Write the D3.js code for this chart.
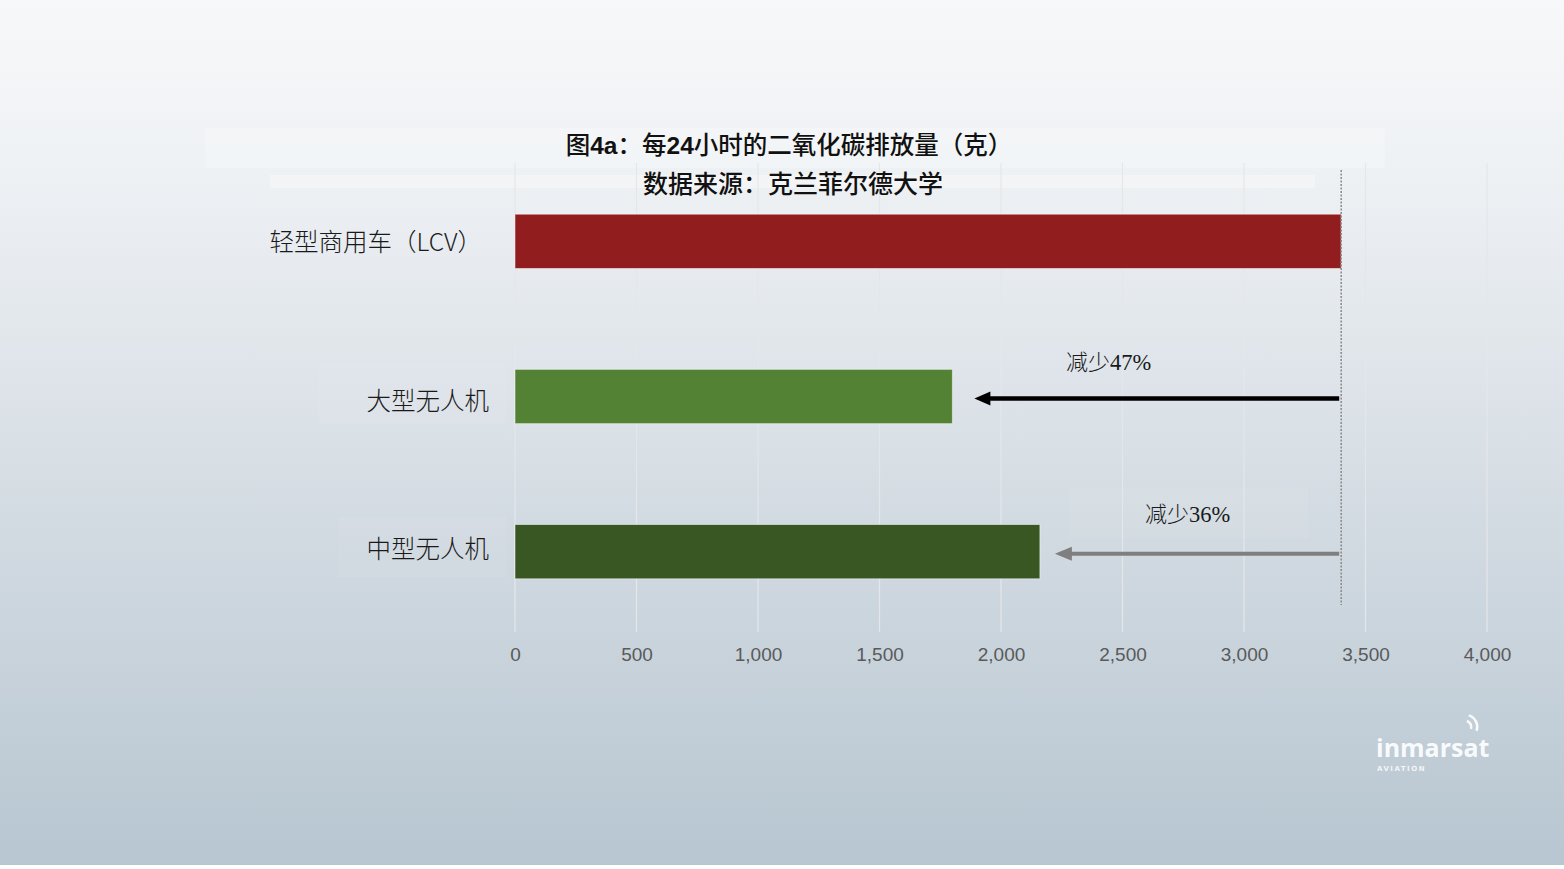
<!DOCTYPE html>
<html><head><meta charset="utf-8">
<script src="https://cdn.jsdelivr.net/npm/d3@7"></script>
<style>html,body{margin:0;padding:0;background:#fff;}svg{display:block;}</style>
</head><body>
<svg id="chart" width="1564" height="869"></svg>
<script>
const categories = ["轻型商用车（LCV）", "大型无人机", "中型无人机"];
const values = [3400, 1800, 2160];
const barColors = ["#921d1e", "#548235", "#385723"];
const tickValues = [0, 500, 1000, 1500, 2000, 2500, 3000, 3500, 4000];
const reductionLabels = [["减少", "47%"], ["减少", "36%"]];
const titleParts = [["图", "n"], ["4a", "b"], ["：每", "n"], ["24", "b"], ["小时的二氧化碳排放量（克）", "n"]];
const subtitle = "数据来源：克兰菲尔德大学";

const svg = d3.select("#chart");
const W = 1564, H = 869;
const defs = svg.append("defs");
const grad = defs.append("linearGradient").attr("id","bg").attr("x1",0).attr("y1",0).attr("x2",0).attr("y2",1);
grad.append("stop").attr("offset","0%").attr("stop-color","#f7f8fa");
grad.append("stop").attr("offset","20%").attr("stop-color","#eef1f4");
grad.append("stop").attr("offset","60%").attr("stop-color","#d3dbe2");
grad.append("stop").attr("offset","100%").attr("stop-color","#b7c6d1");
svg.append("rect").attr("width",W).attr("height",865).attr("fill","url(#bg)");

// faint boxes behind text
svg.append("rect").attr("x",205).attr("y",128).attr("width",1180).attr("height",40).attr("fill","#fff").attr("opacity",0.22);
svg.append("rect").attr("x",270).attr("y",175).attr("width",1045).attr("height",13).attr("fill","#fff").attr("opacity",0.3);
svg.append("rect").attr("x",318).attr("y",364).attr("width",188).attr("height",60).attr("fill","#fff").attr("opacity",0.06);
svg.append("rect").attr("x",338).attr("y",517).attr("width",168).attr("height",60).attr("fill","#fff").attr("opacity",0.05);
svg.append("rect").attr("x",1070).attr("y",488).attr("width",238).attr("height",50).attr("fill","#fff").attr("opacity",0.06);

const x = d3.scaleLinear().domain([0, 4000]).range([515, 1487]);
const y = d3.scaleBand().domain(categories).range([163, 630]).paddingInner(0.65).paddingOuter(0.33);

// gridlines
svg.append("g").selectAll("line").data(tickValues).join("line")
  .attr("x1", d => x(d)).attr("x2", d => x(d))
  .attr("y1", 163).attr("y2", 632)
  .attr("stroke", "#e4e7ea").attr("stroke-width", 1.2);

// axis labels
const axis = d3.axisBottom(x).tickValues(tickValues).tickFormat(d3.format(",")).tickSize(0).tickPadding(0);
const ag = svg.append("g").attr("transform","translate(0,661)").call(axis);
ag.select(".domain").remove();
ag.selectAll("text").attr("font-family","'Liberation Sans Narrow','Liberation Sans',Arial,sans-serif")
  .attr("font-size",19).attr("fill","#5a5a5a").attr("dy","0");

// bars
svg.append("g").selectAll("rect").data(categories).join("rect")
  .attr("x", x(0)).attr("y", d => y(d))
  .attr("width", (d,i) => x(values[i]) - x(0))
  .attr("height", y.bandwidth())
  .attr("fill", (d,i) => barColors[i])
  .attr("stroke","#ffffff").attr("stroke-opacity",0.5).attr("stroke-width",1);

// category labels
const labelOffsets = [3, 7, 0];
svg.append("g").selectAll("text").data(categories).join("text")
  .attr("x", (d,i) => i === 0 ? 482 : 489)
  .attr("y", (d,i) => y(d) + y.bandwidth()/2 + labelOffsets[i])
  .attr("text-anchor","end").attr("dominant-baseline","middle")
  .attr("font-family","'Noto Sans CJK SC',sans-serif").attr("font-size",24.5).attr("font-weight",300)
  .attr("fill","#1a1a1a").text(d => d);

// dotted reference line
svg.append("line").attr("x1", x(values[0])).attr("x2", x(values[0]))
  .attr("y1",170).attr("y2",605)
  .attr("stroke","#8a8a8a").attr("stroke-width",1.5).attr("stroke-dasharray","2,1.5");

// arrows
function arrow(cat, val, color, sw, headW, headL, gap, labelX, labelY, label) {
  const cy = y(cat) + y.bandwidth()/2 + 2;
  const x0 = x(values[0]) - 2;
  const tip = x(val) + gap;
  svg.append("line").attr("x1", x0).attr("x2", tip + headL - 2).attr("y1", cy).attr("y2", cy)
    .attr("stroke", color).attr("stroke-width", sw);
  svg.append("path").attr("d", `M${tip},${cy} L${tip+headL},${cy-headW} L${tip+headL},${cy+headW} Z`)
    .attr("fill", color);
  const t = svg.append("text").attr("x", labelX).attr("y", labelY).attr("font-size",22).attr("fill","#1a1a1a");
  t.append("tspan").attr("font-family","'Noto Sans CJK SC',serif").attr("font-weight",300).text(label[0]);
  t.append("tspan").attr("font-family","'Liberation Serif','DejaVu Serif',serif").attr("font-size",22.5).text(label[1]);
}
arrow(categories[1], values[1], "#000000", 4.5, 7, 16, 22, 1066, 370, reductionLabels[0]);
arrow(categories[2], values[2], "#7f7f7f", 4, 7, 17, 15, 1145, 522, reductionLabels[1]);

// title
const tt = svg.append("text").attr("x", 789).attr("y", 154).attr("text-anchor","middle")
  .attr("font-size",24.5).attr("fill","#111");
titleParts.forEach(p => {
  tt.append("tspan").text(p[0])
    .attr("font-family", p[1] === "b" ? "'Liberation Sans',Arial,sans-serif" : "'Noto Sans CJK SC',sans-serif")
    .attr("font-weight", p[1] === "b" ? "bold" : 500);
});
svg.append("text").attr("x", 793).attr("y", 193).attr("text-anchor","middle")
  .attr("font-family","'Noto Sans CJK SC',sans-serif").attr("font-weight",500).attr("font-size",25)
  .attr("fill","#111").text(subtitle);

// logo
svg.append("text").attr("x",1376).attr("y",757).attr("font-family","'Open Sans','DejaVu Sans',sans-serif")
  .attr("font-weight","bold").attr("font-size",25).attr("fill","#ffffff").attr("opacity",0.9).text("inmarsat");
svg.append("text").attr("x",1377).attr("y",771).attr("font-family","'DejaVu Sans',sans-serif")
  .attr("font-weight","bold").attr("font-size",7).attr("letter-spacing",1.5).attr("fill","#ffffff").attr("opacity",0.8).text("AVIATION");
[0,1].forEach(k => {
  svg.append("path").attr("d", d3.arc()({innerRadius: 5 + k*6, outerRadius: 7.5 + k*6, startAngle: Math.PI*0.1, endAngle: Math.PI*0.6}))
    .attr("transform","translate(1465,727)").attr("fill","#ffffff").attr("opacity",0.9);
});
</script>
</body></html>
